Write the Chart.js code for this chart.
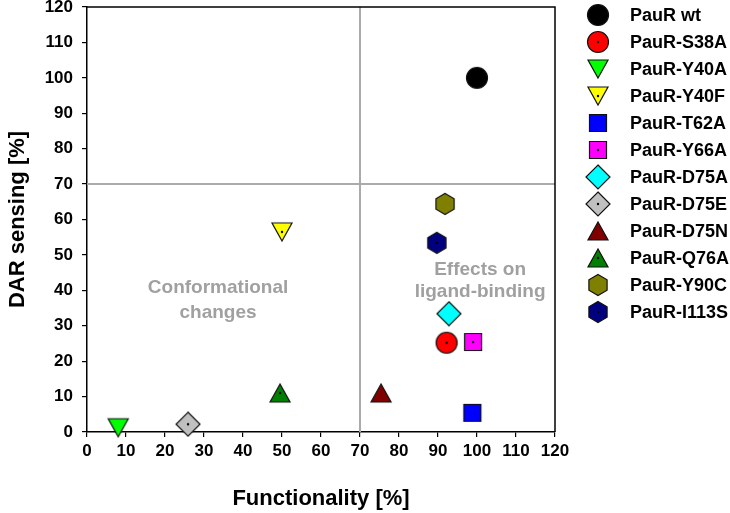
<!DOCTYPE html>
<html>
<head>
<meta charset="utf-8">
<script src="https://cdn.jsdelivr.net/npm/chart.js@4"></script>
<style>
  html, body { margin:0; padding:0; background:#fff; }
  #wrap { width:730px; height:513px; }
</style>
</head>
<body>
<div id="wrap"><canvas id="chart" width="730" height="513"></canvas></div>
<script>
// datos
const labels = ['PauR wt','PauR-S38A','PauR-Y40A','PauR-Y40F','PauR-T62A','PauR-Y66A',
                'PauR-D75A','PauR-D75E','PauR-D75N','PauR-Q76A','PauR-Y90C','PauR-I113S'];
const functionality = [100, 92.2, 8, 50, 98.8, 99, 92.8, 25.9, 75.4, 49.5, 91.8, 89.7];
const darSensing   = [100, 25.2, 1.2, 56.5, 5.4, 25.4, 33.4, 2.2, 11, 11, 64.4, 53.4];
const xTicks = [0,10,20,30,40,50,60,70,80,90,100,110,120];
const yTicks = [0,10,20,30,40,50,60,70,80,90,100,110,120];

const shapes = ['circle','circle','down','down','square','square','diamond','diamond','up','up','hex','hex'];
const colors = ['#000000','#ff0000','#00ff00','#ffff00','#0000ff','#ff00ff',
                '#00ffff','#c0c0c0','#800000','#008000','#808000','#000080'];
const dots = [false,true,false,true,false,true,false,true,false,true,false,true];

const FONT = 'Liberation Sans, Arial, Helvetica, sans-serif';

function makeMarker (shape, fill, dot) {
  const c = document.createElement('canvas');
  c.width = 26; c.height = 26;
  const g = c.getContext('2d');
  const cx = 13, cy = 13;
  g.beginPath();
  if (shape === 'circle') {
    g.arc(cx, cy, 10.5, 0, Math.PI*2);
  } else if (shape === 'down') {
    g.moveTo(cx-10, cy-9); g.lineTo(cx+10, cy-9); g.lineTo(cx, cy+9); g.closePath();
  } else if (shape === 'up') {
    g.moveTo(cx-10, cy+9); g.lineTo(cx+10, cy+9); g.lineTo(cx, cy-9); g.closePath();
  } else if (shape === 'square') {
    g.rect(cx-8.5, cy-8.5, 17, 17);
  } else if (shape === 'diamond') {
    g.moveTo(cx, cy-12); g.lineTo(cx+12, cy); g.lineTo(cx, cy+12); g.lineTo(cx-12, cy); g.closePath();
  } else if (shape === 'hex') {
    for (let k = 0; k < 6; k++) {
      const a = -Math.PI/2 + k*Math.PI/3;
      const px = cx + 10.5*Math.cos(a), py = cy + 10.5*Math.sin(a);
      k ? g.lineTo(px, py) : g.moveTo(px, py);
    }
    g.closePath();
  }
  g.fillStyle = fill; g.fill();
  g.lineWidth = 1.2; g.strokeStyle = '#111'; g.stroke();
  if (dot) {
    g.beginPath(); g.arc(cx, cy, 1.2, 0, Math.PI*2);
    g.fillStyle = '#000'; g.fill();
  }
  return c;
}

const markers = labels.map((_, i) => makeMarker(shapes[i], colors[i], dots[i]));

const datasets = labels.map((lab, i) => ({
  label: lab,
  data: [{ x: functionality[i], y: darSensing[i] }],
  pointStyle: markers[i],
  pointRadius: 12,
  pointHoverRadius: 12,
  backgroundColor: colors[i],
  borderColor: '#000',
  clip: false
}));

// líneas de referencia, marco y textos
const extras = {
  id: 'extras',
  beforeDatasetsDraw (chart) {
    const { ctx, chartArea: a, scales: { x, y } } = chart;
    ctx.save();
    ctx.strokeStyle = '#aaaaaa';
    ctx.lineWidth = 2;
    const px = x.getPixelForValue(70), py = y.getPixelForValue(70);
    ctx.beginPath();
    ctx.moveTo(px, a.top); ctx.lineTo(px, a.bottom);
    ctx.moveTo(a.left, py); ctx.lineTo(a.right, py);
    ctx.stroke();
    ctx.strokeStyle = '#000';
    ctx.lineWidth = 1.5;
    ctx.beginPath();
    ctx.moveTo(a.left, a.top); ctx.lineTo(a.right, a.top); ctx.lineTo(a.right, a.bottom);
    ctx.stroke();

    ctx.fillStyle = '#a0a0a0';
    ctx.font = 'bold 19px ' + FONT;
    ctx.textAlign = 'center';
    ctx.textBaseline = 'middle';
    ctx.fillText('Conformational', x.getPixelForValue(33.6), y.getPixelForValue(40.7));
    ctx.fillText('changes', x.getPixelForValue(33.6), y.getPixelForValue(33.6));
    ctx.fillText('Effects on', x.getPixelForValue(100.8), y.getPixelForValue(45.8));
    ctx.fillText('ligand-binding', x.getPixelForValue(100.8), y.getPixelForValue(39.5));
    ctx.restore();
  },
  afterDraw (chart) {
    const { ctx } = chart;
    ctx.save();
    ctx.font = 'bold 18px ' + FONT;
    ctx.fillStyle = '#000';
    ctx.textAlign = 'left';
    ctx.textBaseline = 'middle';
    labels.forEach((lab, i) => {
      const yy = 15 + 27*i;
      ctx.drawImage(markers[i], 598 - 13, yy - 13);
      ctx.fillText(lab, 630, yy + 1);
    });
    ctx.restore();
  }
};

new Chart(document.getElementById('chart'), {
  type: 'scatter',
  data: { datasets },
  options: {
    responsive: false,
    animation: false,
    layout: { autoPadding: false, padding: { left: 0, right: 175, top: 7, bottom: 0 } },
    plugins: { legend: { display: false }, tooltip: { enabled: false } },
    scales: {
      x: {
        type: 'linear', min: 0, max: 120,
        afterBuildTicks: s => { s.ticks = xTicks.map(v => ({ value: v })); },
        afterFit: s => { s.height = 81; s.paddingLeft = 0; s.paddingRight = 0; },
        ticks: { color: '#000', font: { family: FONT, size: 17, weight: 'bold' }, padding: 4, maxRotation: 0, autoSkip: false },
        grid: { drawOnChartArea: false, tickLength: 5, color: '#000', lineWidth: 1.2 },
        border: { color: '#000', width: 1.5 },
        title: { display: true, text: 'Functionality [%]', color: '#000',
                 font: { family: FONT, size: 22, weight: 'bold' }, padding: { top: 0, bottom: 1 } }
      },
      y: {
        type: 'linear', min: 0, max: 120,
        afterBuildTicks: s => { s.ticks = yTicks.map(v => ({ value: v })); },
        afterFit: s => { s.width = 87; s.paddingTop = 0; s.paddingBottom = 0; },
        ticks: { color: '#000', font: { family: FONT, size: 17, weight: 'bold' }, padding: 9, autoSkip: false },
        grid: { drawOnChartArea: false, tickLength: 5, color: '#000', lineWidth: 1.2 },
        border: { color: '#000', width: 1.5 },
        title: { display: true, text: 'DAR sensing [%]', color: '#000',
                 font: { family: FONT, size: 22, weight: 'bold' }, padding: { top: 5, bottom: 0 } }
      }
    }
  },
  plugins: [extras]
});
</script>
</body>
</html>
